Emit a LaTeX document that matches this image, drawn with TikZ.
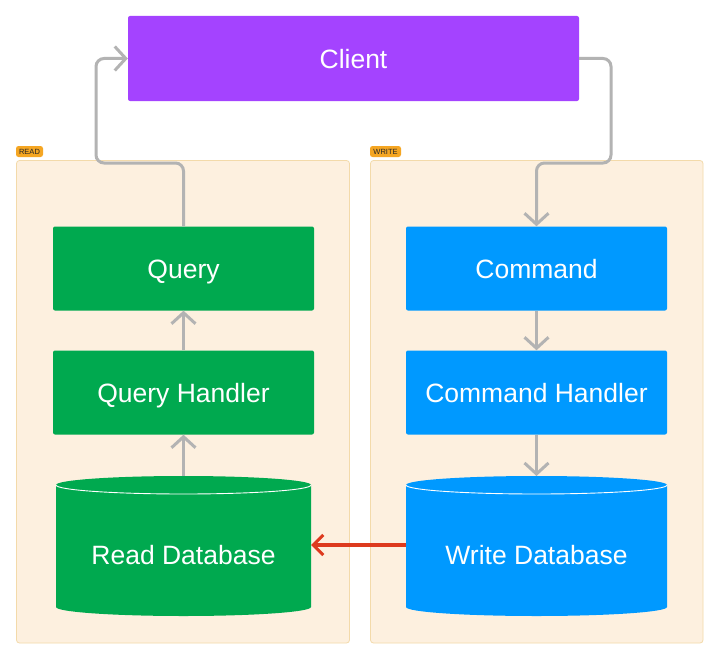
\documentclass[tikz,border=0pt]{standalone}
\usepackage{fontspec}
\setmainfont{Liberation Sans}
\usetikzlibrary{arrows.meta,backgrounds}
\definecolor{cpurple}{HTML}{A443FF}
\definecolor{cgreen}{HTML}{00A94F}
\definecolor{cblue}{HTML}{0099FF}
\definecolor{cpanel}{HTML}{FDF0DF}
\definecolor{cpanelb}{HTML}{F3DAAA}
\definecolor{ctag}{HTML}{F5A623}
\definecolor{cgray}{HTML}{B3B3B3}
\definecolor{cred}{HTML}{DD3A1E}
\tikzset{
  box/.style={draw=none, rounded corners=2pt, minimum width=261pt, minimum height=84pt, text=white, font=\fontsize{26.5}{30}\selectfont, inner sep=0pt, text depth=0pt, text height=19pt},
  dbtext/.style={draw=none, minimum width=255pt, minimum height=120pt, text=white, font=\fontsize{26.5}{30}\selectfont, inner sep=0pt, text depth=0pt, text height=19pt},
  panel/.style={fill=cpanel, draw=cpanelb, line width=0.8pt, rounded corners=3pt},
  tag/.style={fill=ctag, rounded corners=2.5pt, inner sep=0pt, minimum height=11pt, text=black!85, font=\fontsize{7.5}{8}\selectfont},
  conn/.style={draw=cgray, line width=3pt, rounded corners=8pt, -{Straight Barb[length=11pt,width=24pt,line width=3pt]}},
  redconn/.style={draw=cred, line width=3.2pt, -{Straight Barb[length=10pt,width=20pt,line width=3pt]}}
}
\newcommand{\dbcyl}[5]{% x1 x2 ytop ybot color
  \fill[#5] (#1,#3+9) -- (#1,#4-9) arc[start angle=180,end angle=360,x radius={(#2-#1)/2},y radius=-9] -- (#2,#3+9) arc[start angle=0,end angle=180,x radius={(#2-#1)/2},y radius=-9] -- cycle;
  \draw[white, line width=0.9pt] (#1,#3+9) arc[start angle=180,end angle=360,x radius={(#2-#1)/2},y radius=-9];
}
\begin{document}
\begin{tikzpicture}[x=1pt,y=-1pt]
\useasboundingbox[fill=white] (0,0) rectangle (720,661);
% panels
\draw[panel] (16.5,160.5) rectangle (349.5,643);
\draw[panel] (370.5,160.5) rectangle (703,643);
\node[tag, minimum width=27pt] (tagread) at (29.5,151.5) {READ};
\node[tag, minimum width=31pt] (tagwrite) at (385.5,151.5) {WRITE};
% client
\node[box, fill=cpurple, minimum width=451pt, minimum height=85pt] (client) at (353.5,58.5) {Client};
% read side
\node[box, fill=cgreen] (query) at (183.5,268.5) {Query};
\node[box, fill=cgreen] (qhandler) at (183.5,392.5) {Query Handler};
\dbcyl{56}{311}{476}{616}{cgreen}
\node[dbtext] (readdb) at (183.5,555) {Read Database};
% write side
\node[box, fill=cblue] (command) at (536.5,268.5) {Command};
\node[box, fill=cblue] (chandler) at (536.5,392.5) {Command Handler};
\dbcyl{406}{667}{476}{616}{cblue}
\node[dbtext, minimum width=261pt] (writedb) at (536.5,555) {Write Database};
% connectors
\coordinate (lbend) at (96,163);
\coordinate (rbend) at (611,163);
\coordinate (rdtop) at (183.5,476);
\coordinate (wdtop) at (536.5,476);
\draw[conn] (query.north) |- (lbend) |- (client.west);
\draw[conn] (client.east) -| (rbend) -| (command.north);
\draw[conn] (qhandler.north) -- (query.south);
\draw[conn] (rdtop) -- (qhandler.south);
\draw[conn] (command.south) -- (chandler.north);
\draw[conn] (chandler.south) -- (wdtop);
\draw[redconn] (writedb.west |- 0,545) -- (readdb.east |- 0,545);
\end{tikzpicture}
\end{document}
